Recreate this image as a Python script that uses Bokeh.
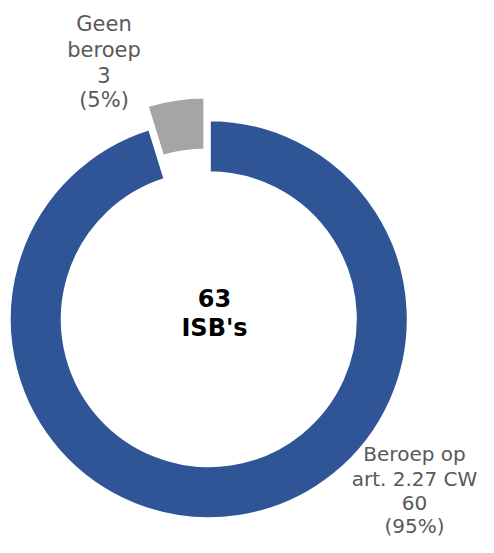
import math
from bokeh.plotting import figure
from bokeh.models import Range1d, ColumnDataSource
from bokeh.core.properties import value
from bokeh.embed import file_html
from bokeh.resources import INLINE

# ---- data ----
categories = ["Beroep op art. 2.27 CW", "Geen beroep"]
label_lines = [["Beroep op", "art. 2.27 CW"], ["Geen", "beroep"]]
counts = [60, 3]
colors = ["#2F5597", "#A5A5A5"]
center_lines = ["63", "ISB's"]

total = sum(counts)

# ---- layout (canvas pixel coords mapped to data) ----
W, H = 478, 537
p = figure(width=W, height=H, output_backend="svg", toolbar_location=None,
           x_range=Range1d(0, W), y_range=Range1d(0, H),
           min_border=0)
p.axis.visible = False
p.grid.visible = False
p.outline_line_color = None
p.background_fill_color = "white"
p.border_fill_color = "white"

def Y(screen_y, fs=0):
    # baseline correction for rendered text
    return H - screen_y + 0.37 * fs

cx, cy = 208.3, Y(318.7)
r_in, r_out = 146, 200
explode = [0, 23]

start = math.pi / 2
order = [1, 0]  # grey slice anticlockwise from top, blue takes the rest
wx, wy, sa, ea, fc = [], [], [], [], []
a = start
for i in order:
    frac = counts[i] / total
    a0, a1 = a, a + frac * 2 * math.pi
    mid = (a0 + a1) / 2
    wx.append(cx + explode[i] * math.cos(mid))
    wy.append(cy + explode[i] * math.sin(mid))
    sa.append(a0)
    ea.append(a1)
    fc.append(colors[i])
    a = a1

src = ColumnDataSource(dict(x=wx, y=wy, start=sa, end=ea, color=fc))
p.annular_wedge(x="x", y="y", inner_radius=r_in, outer_radius=r_out,
                start_angle="start", end_angle="end", direction="anticlock",
                fill_color="color", line_color="white", line_width=4, source=src)

# ---- labels ----
label_style = {0: (414, [461, 485.5, 510, 533], 20),
               1: (103.5, [31.7, 57.3, 82.7, 107.5], 21)}
for i in range(len(categories)):
    pct = round(100 * counts[i] / total)
    lines = label_lines[i] + [str(counts[i]), f"({pct}%)"]
    lx, bys, fs = label_style[i]
    p.text(x=[lx] * len(lines), y=[Y(b, fs) for b in bys], text=lines,
           text_font=value("DejaVu Sans"), text_font_size=f"{fs}px",
           text_color="#595959", text_align="center", text_baseline="alphabetic")

p.text(x=[214, 214], y=[Y(306, 24), Y(336, 24)], text=center_lines,
       text_font=value("DejaVu Sans"), text_font_size="24px", text_font_style="bold",
       text_color="black", text_align="center", text_baseline="alphabetic")

open("out.html", "w").write(file_html(p, INLINE))
